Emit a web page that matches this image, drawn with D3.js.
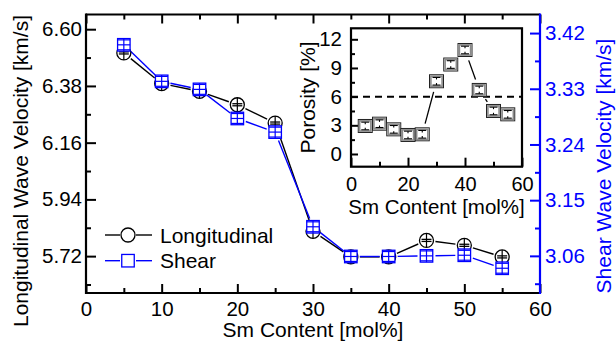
<!DOCTYPE html>
<html><head><meta charset="utf-8">
<script src="https://cdn.jsdelivr.net/npm/d3@7"></script>
<style>
html,body{margin:0;padding:0;background:#fff;}
svg{display:block;font-family:"Liberation Sans",Arial,sans-serif;}
</style></head>
<body><svg id="c" width="616" height="342"></svg>
<script>
// ---- data ----
const smContent = [5,10,15,20,25,30,35,40,45,50,55];
const longitudinal = [6.508,6.389,6.359,6.307,6.236,5.816,5.717,5.717,5.781,5.762,5.717];
const shear = [3.401,3.342,3.329,3.282,3.260,3.107,3.059,3.059,3.060,3.061,3.040];
const porosity = [2.93,3.17,2.58,1.99,2.06,7.61,9.36,10.88,6.70,4.50,4.15];
const porosityErr = [0.4,0.4,0.4,0.4,0.4,0.4,0.4,0.4,0.4,0.4,0.4];
const longErr = [0.004,0.004,0.004,0.004,0.004,0.004,0.004,0.004,0.004,0.004,0.004];
const shearErr = [0.008,0.008,0.008,0.008,0.008,0.008,0.008,0.008,0.008,0.008,0.008];
const xTicks = [0,10,20,30,40,50,60];
const leftTicks = [5.72,5.94,6.16,6.38,6.60];
const rightTicks = [3.06,3.15,3.24,3.33,3.42];
const insetXTicks = [0,20,40,60];
const insetYTicks = [0,3,6,9,12];
const porosityRef = 6;

const BLUE = "#0000ff";
const FS = 21;   // titles / legend
const TFS = 20.5; // tick labels
const svg = d3.select("#c");

// ---- scales ----
const x = d3.scaleLinear([0,60],[86,540]);
const yL = d3.scaleLinear([5.577,6.657],[293,14.5]);
const yR = d3.scaleLinear([3.0,3.45],[293,14.5]);
const xi = d3.scaleLinear([0,60],[351,522]);
const yi = d3.scaleLinear([-1.33,13.15],[166.7,28.3]);

function styleAxis(g, color, sw, fs){
  g.select(".domain").remove();
  g.selectAll(".tick line").attr("stroke", color).attr("stroke-width", sw);
  g.selectAll(".tick text").attr("fill", color).attr("font-size", fs || TFS)
    .attr("font-family", '"Liberation Sans",Arial,sans-serif');
}

// ---- main axes ----
const mid = (a)=>a.slice(0,-1).map((v,i)=>(v+a[i+1])/2);
// bottom
svg.append("g").attr("transform","translate(0,293)")
  .call(d3.axisBottom(x).tickValues(xTicks).tickSize(-9).tickPadding(8.5).tickFormat(d3.format("d")))
  .call(g=>styleAxis(g,"#000",2));
svg.append("g").attr("transform","translate(0,293)")
  .call(d3.axisBottom(x).tickValues(mid(xTicks)).tickSize(-5).tickFormat(""))
  .call(g=>styleAxis(g,"#000",2));
// top
svg.append("g").attr("transform","translate(0,14.5)")
  .call(d3.axisTop(x).tickValues(xTicks).tickSize(-9).tickFormat(""))
  .call(g=>styleAxis(g,"#000",2));
svg.append("g").attr("transform","translate(0,14.5)")
  .call(d3.axisTop(x).tickValues(mid(xTicks)).tickSize(-5).tickFormat(""))
  .call(g=>styleAxis(g,"#000",2));
// left
svg.append("g").attr("transform","translate(86,0)")
  .call(d3.axisLeft(yL).tickValues(leftTicks).tickSize(-10).tickPadding(4).tickFormat(d3.format(".2f")))
  .call(g=>styleAxis(g,"#000",2));
svg.append("g").attr("transform","translate(86,0)")
  .call(d3.axisLeft(yL).tickValues([leftTicks[0]-0.11].concat(mid(leftTicks))).tickSize(-5).tickFormat(""))
  .call(g=>styleAxis(g,"#000",2));
// right
svg.append("g").attr("transform","translate(540,0)")
  .call(d3.axisRight(yR).tickValues(rightTicks).tickSize(-10).tickPadding(5).tickFormat(d3.format(".2f")))
  .call(g=>styleAxis(g,BLUE,2));
svg.append("g").attr("transform","translate(540,0)")
  .call(d3.axisRight(yR).tickValues([rightTicks[0]-0.045].concat(mid(rightTicks))).tickSize(-5).tickFormat(""))
  .call(g=>styleAxis(g,BLUE,2));

// spines
svg.append("line").attr("x1",86).attr("x2",540).attr("y1",293).attr("y2",293).attr("stroke","#000").attr("stroke-width",2.2);
svg.append("line").attr("x1",86).attr("x2",540).attr("y1",14.5).attr("y2",14.5).attr("stroke","#000").attr("stroke-width",2.2);
svg.append("line").attr("x1",86).attr("x2",86).attr("y1",13.4).attr("y2",294.1).attr("stroke","#000").attr("stroke-width",2.2);
svg.append("line").attr("x1",540).attr("x2",540).attr("y1",13.4).attr("y2",294.1).attr("stroke",BLUE).attr("stroke-width",2.2);

// titles
svg.append("text").attr("x",313).attr("y",337).attr("text-anchor","middle").attr("font-size",FS).text("Sm Content [mol%]");
svg.append("text").attr("transform","translate(27.5,171) rotate(-90)").attr("text-anchor","middle").attr("font-size",FS).text("Longitudinal Wave Velocity [km/s]");
svg.append("text").attr("transform","translate(611,166) rotate(-90)").attr("text-anchor","middle").attr("font-size",FS).attr("fill",BLUE).text("Shear Wave Velocity [km/s]");

// gapped line segments
function gapped(g, pts, gap, color, sw){
  for(let i=0;i<pts.length-1;i++){
    const [x1,y1]=pts[i],[x2,y2]=pts[i+1];
    const dx=x2-x1, dy=y2-y1, L=Math.hypot(dx,dy);
    if(L<=2*gap) continue;
    const ux=dx/L, uy=dy/L;
    g.append("line").attr("x1",x1+ux*gap).attr("y1",y1+uy*gap)
      .attr("x2",x2-ux*gap).attr("y2",y2-uy*gap)
      .attr("stroke",color).attr("stroke-width",sw);
  }
}
const lp = smContent.map((d,i)=>[x(d), yL(longitudinal[i])]);
const sp = smContent.map((d,i)=>[x(d), yR(shear[i])]);
const main = svg.append("g");
gapped(main, lp, 9, "#000", 1.4);
gapped(main, sp, 9, BLUE, 1.4);

// circles
const R = 7;
smContent.forEach((d,i)=>{
  const cx=x(d), cy=yL(longitudinal[i]);
  const g=main.append("g");
  g.append("circle").attr("cx",cx).attr("cy",cy).attr("r",R).attr("fill","#fff").attr("stroke","#000").attr("stroke-width",1.3);
  g.append("line").attr("x1",cx).attr("x2",cx).attr("y1",cy-R).attr("y2",cy+R).attr("stroke","#000").attr("stroke-width",1.2);
  [longitudinal[i]-longErr[i], longitudinal[i]+longErr[i]].forEach(v=>{
    g.append("line").attr("x1",cx-5).attr("x2",cx+5).attr("y1",yL(v)).attr("y2",yL(v)).attr("stroke","#000").attr("stroke-width",1.3);
  });
});
// squares
const S = 12.5;
smContent.forEach((d,i)=>{
  const cx=x(d), cy=yR(shear[i]);
  const g=main.append("g");
  g.append("rect").attr("x",cx-S/2).attr("y",cy-S/2).attr("width",S).attr("height",S).attr("fill","#fff").attr("stroke",BLUE).attr("stroke-width",1.3);
  g.append("line").attr("x1",cx).attr("x2",cx).attr("y1",cy-S/2).attr("y2",cy+S/2).attr("stroke",BLUE).attr("stroke-width",1.2);
  [shear[i]-shearErr[i], shear[i], shear[i]+shearErr[i]].forEach(v=>{
    g.append("line").attr("x1",cx-S/2).attr("x2",cx+S/2).attr("y1",yR(v)).attr("y2",yR(v)).attr("stroke",BLUE).attr("stroke-width",1.2);
  });
});

// legend
const leg = svg.append("g");
[[235,"Longitudinal","#000","c"],[260.7,"Shear",BLUE,"s"]].forEach(([ly,label,col,m])=>{
  leg.append("line").attr("x1",105).attr("x2",120).attr("y1",ly).attr("y2",ly).attr("stroke",col).attr("stroke-width",1.4);
  leg.append("line").attr("x1",136).attr("x2",152).attr("y1",ly).attr("y2",ly).attr("stroke",col).attr("stroke-width",1.4);
  if(m==="c") leg.append("circle").attr("cx",128).attr("cy",ly).attr("r",R).attr("fill","#fff").attr("stroke",col).attr("stroke-width",1.3);
  else leg.append("rect").attr("x",128-S/2).attr("y",ly-S/2).attr("width",S).attr("height",S).attr("fill","#fff").attr("stroke",col).attr("stroke-width",1.3);
  leg.append("text").attr("x",160).attr("y",ly+7.5).attr("font-size",FS).attr("fill","#000").text(label);
});

// ---- inset ----
const ins = svg.append("g");
ins.append("rect").attr("x",351).attr("y",28.3).attr("width",171).attr("height",138.4).attr("fill","#fff").attr("stroke","none");
ins.append("g").attr("transform","translate(0,166.7)")
  .call(d3.axisBottom(xi).tickValues(insetXTicks).tickSize(-9).tickPadding(10).tickFormat(d3.format("d")))
  .call(g=>styleAxis(g,"#000",2,20));
ins.append("g").attr("transform","translate(0,166.7)")
  .call(d3.axisBottom(xi).tickValues(mid(insetXTicks)).tickSize(-5).tickFormat(""))
  .call(g=>styleAxis(g,"#000",2));
ins.append("g").attr("transform","translate(351,0)")
  .call(d3.axisLeft(yi).tickValues(insetYTicks).tickSize(-7).tickPadding(9).tickFormat(d3.format("d")))
  .call(g=>styleAxis(g,"#000",2));
ins.append("g").attr("transform","translate(351,0)")
  .call(d3.axisLeft(yi).tickValues(mid(insetYTicks)).tickSize(-4).tickFormat(""))
  .call(g=>styleAxis(g,"#000",2));
ins.append("rect").attr("x",351).attr("y",28.3).attr("width",171).attr("height",138.4).attr("fill","none").attr("stroke","#000").attr("stroke-width",2.2);
ins.append("line").attr("x1",xi(0)).attr("x2",xi(60)).attr("y1",yi(porosityRef)).attr("y2",yi(porosityRef))
  .attr("stroke","#000").attr("stroke-width",2).attr("stroke-dasharray","7,5");
const pp = smContent.map((d,i)=>[xi(d), yi(porosity[i])]);
gapped(ins, pp, 11, "#000", 1.3);
smContent.forEach((d,i)=>{
  const cx=xi(d), cy=yi(porosity[i]);
  const g=ins.append("g");
  g.append("rect").attr("x",cx-7).attr("y",cy-6.5).attr("width",14).attr("height",13).attr("fill","#fff").attr("stroke","#222").attr("stroke-width",1);
  g.append("rect").attr("x",cx-5.6).attr("y",cy-5.1).attr("width",11.2).attr("height",10.2).attr("fill","none").attr("stroke","#8a8a8a").attr("stroke-width",1.6);
  const yt=yi(porosity[i]+porosityErr[i]), yb=yi(porosity[i]-porosityErr[i]);
  g.append("line").attr("x1",cx-4).attr("x2",cx+4).attr("y1",yt).attr("y2",yt).attr("stroke","#000").attr("stroke-width",1.1);
  g.append("line").attr("x1",cx-4).attr("x2",cx+4).attr("y1",yb).attr("y2",yb).attr("stroke","#000").attr("stroke-width",1.1);
  g.append("line").attr("x1",cx).attr("x2",cx).attr("y1",yt).attr("y2",yt+2).attr("stroke","#000").attr("stroke-width",1.1);
  g.append("line").attr("x1",cx).attr("x2",cx).attr("y1",yb-2).attr("y2",yb).attr("stroke","#000").attr("stroke-width",1.1);
});
ins.append("text").attr("x",436.5).attr("y",214).attr("text-anchor","middle").attr("font-size",20.5).text("Sm Content [mol%]");
ins.append("text").attr("transform","translate(315,97.5) rotate(-90)").attr("text-anchor","middle").attr("font-size",FS).text("Porosity [%]");
</script></body></html>
